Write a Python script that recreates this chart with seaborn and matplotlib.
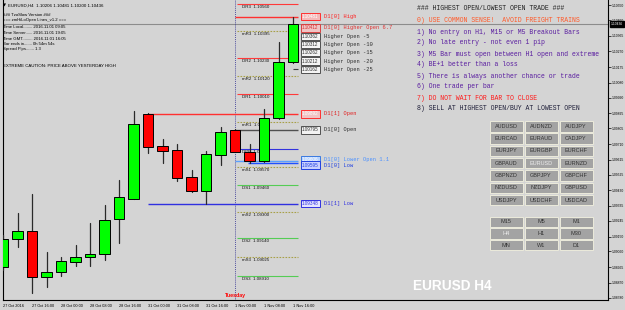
import matplotlib
matplotlib.use("Agg")
import matplotlib.pyplot as plt
import matplotlib.transforms as mtransforms
from matplotlib.patches import Rectangle
from matplotlib import font_manager
import seaborn as sns
import pandas as pd
import numpy as np

# ---------------- data ----------------
opens  = [1.08966, 1.09135, 1.09184, 1.08905, 1.08936, 1.08996, 1.09026, 1.09045, 1.09256, 1.09377,
          1.09892, 1.09698, 1.09674, 1.09510, 1.09426, 1.09643, 1.09795, 1.09662, 1.09606, 1.09867, 1.10206]
highs  = [1.09159, 1.09293, 1.09408, 1.09057, 1.09026, 1.09099, 1.09232, 1.09341, 1.09492, 1.09910,
          1.09895, 1.09740, 1.09710, 1.09553, 1.09668, 1.09813, 1.09800, 1.09710, 1.09922, 1.10327, 1.10481]
lows   = [1.08948, 1.09087, 1.08809, 1.08845, 1.08911, 1.08972, 1.08972, 1.09008, 1.09111, 1.09377,
          1.09656, 1.09595, 1.09486, 1.09420, 1.09348, 1.09583, 1.09662, 1.09595, 1.09600, 1.09860, 1.10200]
closes = [1.09135, 1.09184, 1.08905, 1.08936, 1.09002, 1.09026, 1.09045, 1.09250, 1.09389, 1.09831,
          1.09692, 1.09668, 1.09504, 1.09426, 1.09650, 1.09783, 1.09662, 1.09606, 1.09867, 1.10206, 1.10436]

time_labels = ["27 Oct 2016", "27 Oct 16:00", "28 Oct 00:00", "28 Oct 08:00", "28 Oct 16:00",
               "31 Oct 00:00", "31 Oct 08:00", "31 Oct 16:00", "1 Nov 00:00", "1 Nov 08:00", "1 Nov 16:00"]
price_ticks = [1.08780, 1.08870, 1.08965, 1.09060, 1.09150, 1.09245, 1.09335, 1.09430, 1.09525, 1.09615,
               1.09710, 1.09805, 1.09895, 1.09990, 1.10080, 1.10175, 1.10270, 1.10365, 1.10460, 1.10550]
bid_price = 1.10436

pivot_names  = ["DR3", "mR3", "DR2", "mR2", "DR1", "mR1", "DPP", "mS1", "DS1", "mS2", "DS2", "mS3", "DS3"]
pivot_values = [1.10560, 1.10395, 1.10230, 1.10120, 1.10010, 1.09845, 1.09680,
                1.09570, 1.09460, 1.09300, 1.09140, 1.09025, 1.08910]

level_names  = ["D1[0] High", "D1[0] Higher Open 6.7", "Higher Open -5", "Higher Open -10",
                "Higher Open -15", "Higher Open -20", "Higher Open -25", "D1[1] Open",
                "D1[0] Open", "D1[0] Lower Open 1.1", "D1[0] Low", "D1[1] Low"]
level_values = [1.10481, 1.10412, 1.10362, 1.10312, 1.10262, 1.10212, 1.10162,
                1.09892, 1.09795, 1.09606, 1.09595, 1.09348]

info_lines = ["### TzoSlow Version ###", "=== zmHiLoOpen Lines_v1.2 ===",
              "Time Local........ 2016.11.01 09:05", "Time Server...... 2016.11.01 19:05",
              "Time GMT......... 2016.11.01 16:05", "Bar ends in....... 0h 54m 54s",
              "Spread Pips....... 1.3"]
caution = "EXTREME CAUTION: PRICE ABOVE YESTERDAY HIGH"
rules = ["### HIGHEST OPEN/LOWEST OPEN TRADE ###",
         "0) USE COMMON SENSE!  AVOID FREIGHT TRAINS",
         "1) No entry on H1, M15 or M5 Breakout Bars",
         "2) No late entry - not even 1 pip",
         "3) M5 Bar must open between H1 open and extreme",
         "4) BE+1 better than a loss",
         "5) There is always another chance or trade",
         "6) One trade per bar",
         "7) DO NOT WAIT FOR BAR TO CLOSE",
         "8) SELL AT HIGHEST OPEN/BUY AT LOWEST OPEN"]
pairs = [["AUDUSD", "AUDNZD", "AUDJPY"], ["EURCAD", "EURAUD", "CADJPY"], ["EURJPY", "EURGBP", "EURCHF"],
         ["GBPAUD", "EURUSD", "EURNZD"], ["GBPNZD", "GBPJPY", "GBPCHF"], ["NZDUSD", "NZDJPY", "GBPUSD"],
         ["USDJPY", "USDCHF", "USDCAD"]]
timeframes = [["M15", "M5", "M1"], ["H4", "H1", "M30"], ["MN", "W1", "D1"]]

# ---------------- figure ----------------
W, H = 625, 310
BG = "#d4d4d4"
sns.set_theme(style="white")
plt.rcParams["font.family"] = ["Liberation Sans", "DejaVu Sans"]
MONO = ["Liberation Mono", "DejaVu Sans Mono"]

_names = {f.name for f in font_manager.fontManager.ttflist}
if "Liberation Sans Narrow" in _names:
    BIG_FONT = dict(family=["Liberation Sans Narrow"], fontsize=11.5)
elif "DejaVu Sans Condensed" in _names:
    BIG_FONT = dict(family=["DejaVu Sans Condensed"], fontsize=10.5)
else:
    BIG_FONT = dict(family=["Liberation Sans"], fontsize=9.8)

fig = plt.figure(figsize=(W / 100, H / 100), dpi=100, facecolor=BG)
ax = fig.add_axes([3 / W, 10 / H, 605 / W, 300 / H], facecolor=BG)

def fx(px):
    return px / W

def fy(py):
    return 1 - py / H

PX_PRICE = 0.0000605        # price units per pixel
BAR_PX = 14.53              # pixels per bar
def ix(px):                 # pixel x -> bar index
    return (px - 2) / BAR_PX

ax.set_xlim(ix(3), ix(608))
ax.set_ylim(bid_price - 276 * PX_PRICE, bid_price + 24 * PX_PRICE)

df = pd.DataFrame({"open": opens, "high": highs, "low": lows, "close": closes})
df["i"] = np.arange(len(df))

# wicks via seaborn
wick = pd.concat([df[["i", "low"]].rename(columns={"low": "p"}),
                  df[["i", "high"]].rename(columns={"high": "p"})]).sort_values("i")
sns.lineplot(data=wick, x="i", y="p", units="i", estimator=None, sort=False,
             color="#2a2a2a", lw=0.9, ax=ax, zorder=5, legend=False)

up = df["close"] >= df["open"]
colors = np.where(up, "#00ff00", "#ff0000")
body = (df["close"] - df["open"]).abs().clip(lower=0.00004)
ax.bar(df["i"], body, bottom=np.minimum(df["open"], df["close"]), width=0.72,
       color=colors, edgecolor="black", linewidth=0.7, zorder=6)

# bid line
ax.axhline(bid_price, color="#8c8c8c", lw=0.8, zorder=2)

# day separator
ax.axvline(16, color="#2a2a90", lw=0.6, linestyle=(0, (1, 1.3)), zorder=2)
ax.text(16, bid_price - 272 * PX_PRICE, "Tuesday", color="red", fontsize=3.8,
        fontweight="bold", ha="center", va="center", zorder=7)

# pivot lines
x0, x1 = 16.1, ix(297)
for name, v in zip(pivot_names, pivot_values):
    if name.startswith("m"):
        ax.hlines(v, x0, x1, color="#a8a048", lw=0.8, linestyle=(0, (1.5, 1.2)), zorder=3)
    elif name.startswith("DR"):
        ax.hlines(v, x0, x1, color="#ff3a3a", lw=0.8, zorder=3)
    elif name.startswith("DS"):
        ax.hlines(v, x0, x1, color="#55cc55", lw=0.8, zorder=3)
    else:
        ax.hlines(v, x0, x1, color="#3333dd", lw=0.8, zorder=3)
    ax.text(ix(241), v - 3 * PX_PRICE, f"{name}  {v:.5f}", fontsize=3.2, color="#111111",
            ha="left", va="center", zorder=3)

# level lines and boxes
styles = {
    "D1[0] High": dict(start=16, line="#ff3030", ec="#ff3030", fc="#f4b8b8", tc="#ffffff", lc="#ff2020", dy=0),
    "D1[0] Higher Open 6.7": dict(start=None, line=None, ec="#d84040", fc="#f0c4c4", tc="#d83030", lc="#e03030", dy=0),
    "D1[1] Open": dict(start=10, line="#ff3030", ec="#ff3030", fc="#f0c4c4", tc="#ffffff", lc="#e02020", dy=0),
    "D1[0] Open": dict(start=16, line="#505050", ec="#505050", fc="#f2f2f2", tc="#303030", lc="#303030", dy=0),
    "D1[0] Lower Open 1.1": dict(start=16, line="#5aa0ff", ec="#3a7ae0", fc="#b8d4ff", tc="#ffffff", lc="#4a90ff", dy=1.5),
    "D1[0] Low": dict(start=16.9, line="#2050ff", ec="#2040e0", fc="#c8d0ff", tc="#2040e0", lc="#2040e0", dy=-2.0),
    "D1[1] Low": dict(start=10, line="#3030e0", ec="#3030e0", fc="#e4e4ff", tc="#3030e0", lc="#3030e0", dy=0),
}
default_style = dict(start=None, line=None, ec="#505050", fc="#f4f4f4", tc="#303030", lc="#303030", dy=0)
for name, v in zip(level_names, level_values):
    st = styles.get(name, default_style)
    if st["start"] is not None:
        ax.hlines(v, st["start"], x1, color=st["line"], lw=1.0, zorder=3)
    else:
        ax.hlines(v, ix(292), ix(297), color="#404040", lw=0.8, zorder=3)
    ty = v + st["dy"] * PX_PRICE
    ax.text(ix(301.5), ty, f"{v:.5f}", fontsize=3.3, color=st["tc"], ha="left", va="center", zorder=8,
            bbox=dict(boxstyle="square,pad=0.25", fc=st["fc"], ec=st["ec"], lw=0.7))
    ax.text(ix(324), ty, name, fontsize=3.9, color=st["lc"], family=MONO, ha="left", va="center", zorder=8)

# axes styling
for s in ["left", "bottom", "right"]:
    ax.spines[s].set_color("black")
    ax.spines[s].set_linewidth(0.8)
ax.spines["top"].set_visible(False)
ax.yaxis.tick_right()
ax.set_yticks(price_ticks)
ax.set_yticklabels([f"{v:.5f}" for v in price_ticks], fontsize=2.4, color="black")
ax.tick_params(axis="y", length=2, width=0.5, pad=1, colors="black", labelcolor="black")
ax.set_xticks(range(0, 21, 2))
ax.set_xticklabels(time_labels, fontsize=2.8, ha="left", color="black")
ax.tick_params(axis="x", length=2, width=0.5, pad=1.2, colors="black")
ax.set_xlabel("")
ax.set_ylabel("")

# bid box on price axis
tr = mtransforms.blended_transform_factory(ax.transAxes, ax.transData)
ax.text(1 + 3 / 605, bid_price, f"{bid_price:.5f}", transform=tr, fontsize=2.4, color="white",
        ha="left", va="center", clip_on=False, zorder=10,
        bbox=dict(boxstyle="square,pad=0.35", fc="black", ec="black"))

# left info block
fig.text(fx(3), fy(5.5), "\u25BC", fontsize=2.8, color="black", family=["DejaVu Sans"], va="center")
fig.text(fx(8), fy(5.5), f"EURUSD,H4  {opens[-1]:.5f} {highs[-1]:.5f} {lows[-1]:.5f} {closes[-1]:.5f}",
         fontsize=3.2, color="black", va="center")
info_y = [15.5, 20.5, 27.5, 33, 38.7, 43.8, 49]
for t, yy in zip(info_lines, info_y):
    fig.text(fx(3), fy(yy), t, fontsize=3.1, color="black", va="center")
fig.text(fx(3), fy(65.7), caution, fontsize=3.2, color="black", va="center")

# right rules block
rule_y = [8, 20.5, 32, 43, 54, 65, 76, 87, 98, 109]
rule_c = ["#222222", "#ff5a2a", "#5a1ea0", "#5a1ea0", "#5a1ea0", "#5a1ea0", "#5a1ea0", "#5a1ea0",
          "#ff1a1a", "#20203a"]
for t, yy, c in zip(rules, rule_y, rule_c):
    fig.text(fx(417), fy(yy), t, fontsize=4.7, color=c, family=MONO, va="center")

# buttons
def button(x0, y0, w, h, label, active=False):
    fig.add_artist(Rectangle((fx(x0), fy(y0 + h)), w / W, h / H, transform=fig.transFigure,
                             fc="#a3a3a3", ec="#ecebdc", lw=0.7))
    fig.text(fx(x0 + w / 2), fy(y0 + h / 2), label, fontsize=4.0,
             color="#ececec" if active else "#333333", ha="center", va="center")

for r, row in enumerate(pairs):
    for c, lab in enumerate(row):
        button(489.5 + c * 35, 121 + r * 12.3, 33, 10.5, lab, active=(lab == "EURUSD"))
for r, row in enumerate(timeframes):
    for c, lab in enumerate(row):
        button(489.5 + c * 35, 216.5 + r * 11.8, 33, 10.2, lab, active=(lab == "H4"))

fig.text(fx(452.5), fy(286.5), "EURUSD H4", fontweight="bold", color="white",
         ha="center", va="center", **BIG_FONT)

fig.savefig("out.png", dpi=100, facecolor=BG)
